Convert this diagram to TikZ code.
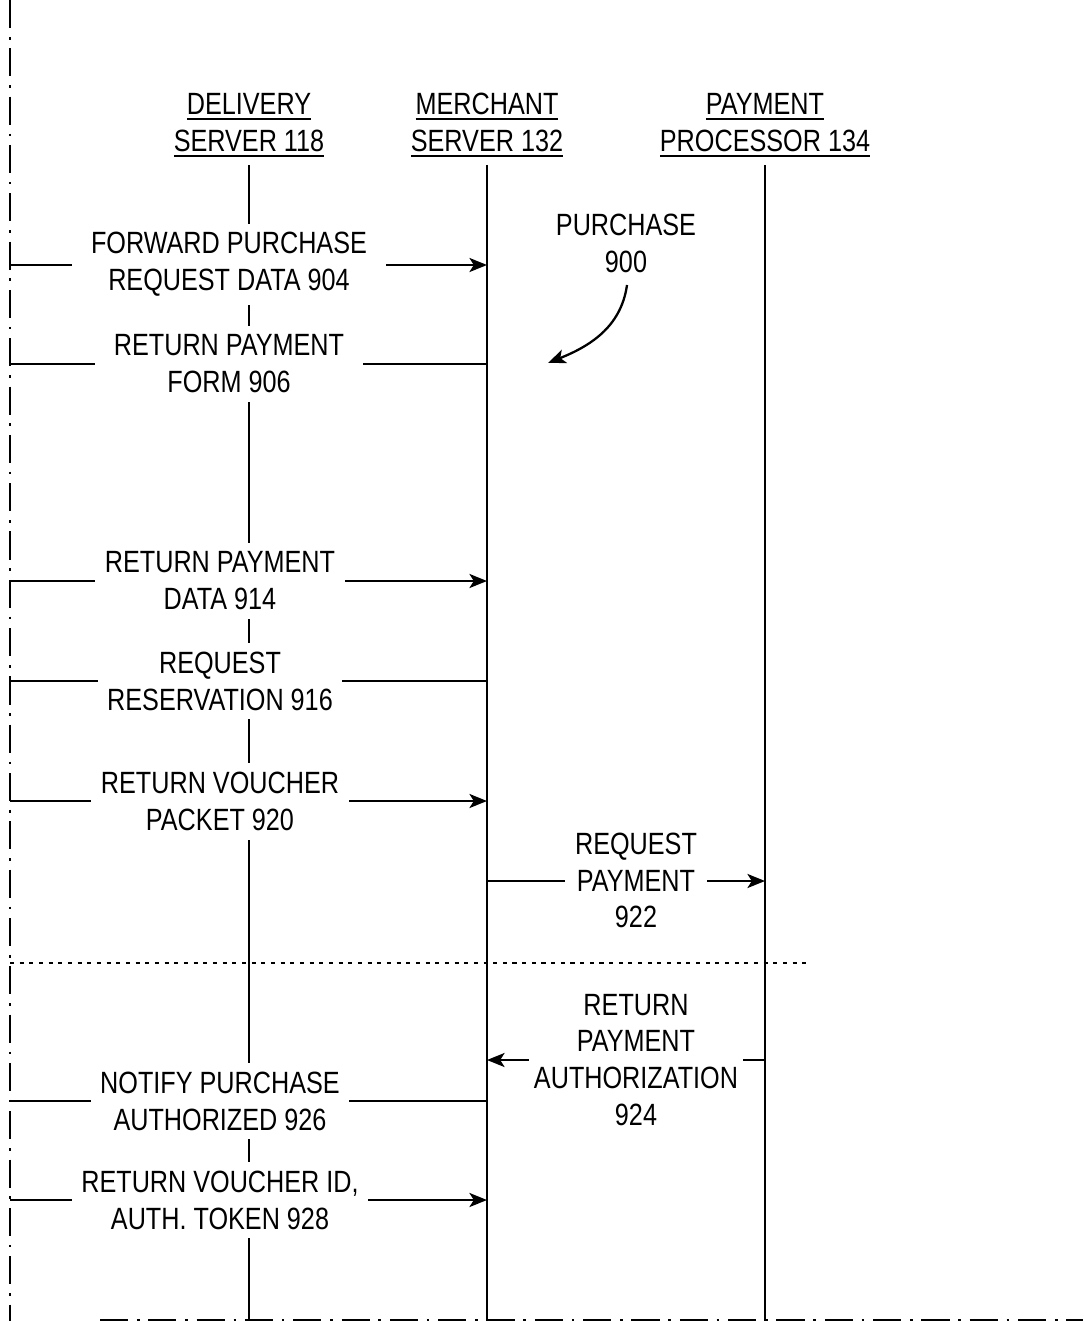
\documentclass[tikz,border=0pt]{standalone}
\usepackage{fontspec}
\setmainfont{Liberation Sans}[FakeStretch=0.82]
\usetikzlibrary{arrows.meta}

% underlined header line
\newcommand{\headul}[1]{\setbox0\hbox{#1}\rlap{\raisebox{-3pt}{\rule{\wd0}{1.1pt}}}\box0}

\begin{document}
\begin{tikzpicture}[x=0.02cm, y=-0.02cm,
  txt/.style={align=center, font=\fontsize{17.5}{21}\selectfont, inner sep=0pt},
  lbl/.style={txt, fill=white, inner xsep=5.5pt, inner ysep=5pt},
  life/.style={line width=1.3pt},
  msg/.style={line width=1.3pt},
  arr/.style={msg, -{Stealth[length=10pt,width=8pt,inset=2.5pt]}},
  pageedge/.style={line width=1.2pt, dash pattern=on 16pt off 5pt on 1.5pt off 5pt},
  sep/.style={line width=1.2pt, dash pattern=on 2.3pt off 3.2pt}
]
\useasboundingbox (0,0) rectangle (1083,1321);

% page edges
\coordinate (et) at (10,0);
\coordinate (eb) at (10,1321);
\coordinate (bl) at (100,1320);
\coordinate (br) at (1083,1320);
\draw[pageedge] (et) -- (eb);
\draw[pageedge] (bl) -- (br);

% headers and lifelines
\node[txt] (hdel) at (249,125) {\headul{DELIVERY}\\\headul{SERVER 118}};
\node[txt] (hmer) at (487,125) {\headul{MERCHANT}\\\headul{SERVER 132}};
\node[txt] (hpay) at (765,125) {\headul{PAYMENT}\\\headul{PROCESSOR 134}};
\foreach \s/\x in {del/249,mer/487,pay/765}{
  \coordinate (\s0) at (\x,165);
  \coordinate (\s1) at (\x,1321);
  \draw[life] (\s0) -- (\s1);
}

% separator
\coordinate (s0) at (10,963);
\coordinate (s1) at (808,963);
\draw[sep] (s0) -- (s1);

% messages from the left edge to the merchant server
\foreach \n/\y in {904/265,914/581,920/801,928/1200}{
  \coordinate (L\n) at (10,\y);
  \coordinate (M\n) at (487,\y);
  \draw[arr] (L\n) -- (M\n);
}
\foreach \n/\y in {906/364,916/681,926/1101}{
  \coordinate (L\n) at (10,\y);
  \coordinate (M\n) at (487,\y);
  \draw[msg] (L\n) -- (M\n);
}

% merchant server <-> payment processor
\coordinate (M922) at (487,881);
\coordinate (P922) at (765,881);
\draw[arr] (M922) -- (P922);
\coordinate (P924) at (765,1060);
\coordinate (M924) at (487,1060);
\draw[arr] (P924) -- (M924);

% labels
\node[lbl, inner xsep=11pt] (t904) at (229,264.5) {FORWARD PURCHASE\\REQUEST DATA 904};
\node[lbl, inner xsep=11pt] (t906) at (229,364) {RETURN PAYMENT\\FORM 906};
\node[lbl] (t914) at (220,581) {RETURN PAYMENT\\DATA 914};
\node[lbl] (t916) at (220,681) {REQUEST\\RESERVATION 916};
\node[lbl] (t920) at (220,801.5) {RETURN VOUCHER\\PACKET 920};
\node[lbl] (t922) at (636,880.5) {REQUEST\\PAYMENT\\922};
\node[lbl, inner xsep=3pt] (t924) at (636,1060) {RETURN\\PAYMENT\\AUTHORIZATION\\924};
\node[lbl] (t926) at (220,1101) {NOTIFY PURCHASE\\AUTHORIZED 926};
\node[lbl] (t928) at (220,1200) {RETURN VOUCHER ID,\\AUTH. TOKEN 928};

% purchase 900
\node[txt] (p900) at (626,243) {PURCHASE\\900};
\coordinate (p900s) at (627,285);
\coordinate (p900e) at (548,363);
\draw[arr] (p900s) to[out=-98,in=22] (p900e);
\end{tikzpicture}
\end{document}
